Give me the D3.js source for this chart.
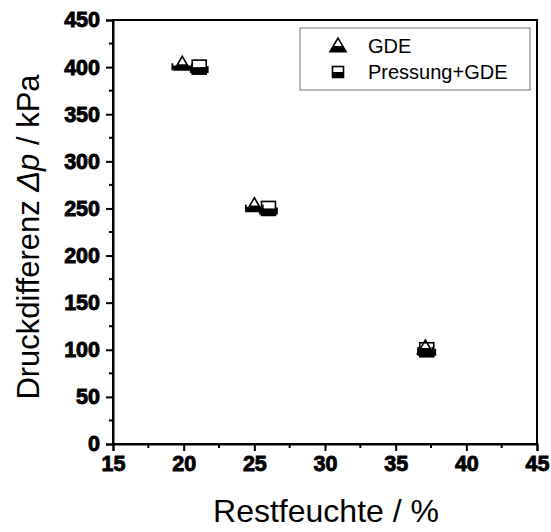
<!DOCTYPE html>
<html>
<head>
<meta charset="utf-8">
<script src="https://cdn.jsdelivr.net/npm/d3@7/dist/d3.min.js"></script>
<style>
  html, body { margin: 0; padding: 0; background: #fff; }
  svg { display: block; font-family: "Liberation Sans", Arial, sans-serif; }
</style>
</head>
<body>
<svg id="chart" width="551" height="532"></svg>
<script>
// Residual moisture (%) vs. pressure difference (kPa)
const gdeX   = [19.9, 25.0, 37.1];
const gdeY   = [403, 253, 102];
const gdeErr = [0.7, 0.6, 0.5];

const presX   = [21.1, 26.0, 37.2];
const presY   = [400, 250, 100];
const presErr = [0.6, 0.6, 0.6];

const xTicks = [15, 20, 25, 30, 35, 40, 45];
const yTicks = [0, 50, 100, 150, 200, 250, 300, 350, 400, 450];

const seriesNames = ["GDE", "Pressung+GDE"];

const svg = d3.select("#chart");
const m = { left: 113, right: 14, top: 20, bottom: 88 };
const W = 551, H = 532;
const x = d3.scaleLinear().domain([15, 45]).range([m.left, W - m.right]);
const y = d3.scaleLinear().domain([0, 450]).range([H - m.bottom, m.top]);

// frame
svg.append("rect")
  .attr("x", x(15)).attr("y", y(450))
  .attr("width", x(45) - x(15)).attr("height", y(0) - y(450))
  .attr("fill", "none").attr("stroke", "#000").attr("stroke-width", 2);

// minor ticks
const xMinor = d3.range(17.5, 45, 5);
const yMinor = d3.range(25, 450, 50);

const xAxis = d3.axisBottom(x).tickValues(xTicks).tickSize(7).tickPadding(5).tickFormat(d3.format("d"));
const yAxis = d3.axisLeft(y).tickValues(yTicks).tickSize(7).tickPadding(6).tickFormat(d3.format("d"));

const gx = svg.append("g").attr("transform", `translate(0,${y(0)})`).call(xAxis);
const gy = svg.append("g").attr("transform", `translate(${x(15)},0)`).call(yAxis);
[gx, gy].forEach(g => {
  g.attr("font-family", "'Liberation Sans', Arial, sans-serif")
   .attr("font-size", 21.5);
  g.select(".domain").attr("stroke", "#000").attr("stroke-width", 2);
  g.selectAll(".tick line").attr("stroke", "#000").attr("stroke-width", 2);
  g.selectAll(".tick text")
    .attr("fill", "#000")
    .style("font-weight", "700")
    .attr("stroke", "#000")
    .attr("stroke-width", 0.9)
    .attr("paint-order", "stroke");
});

svg.append("g").selectAll("line").data(xMinor).join("line")
  .attr("x1", d => x(d)).attr("x2", d => x(d))
  .attr("y1", y(0)).attr("y2", y(0) + 4)
  .attr("stroke", "#000").attr("stroke-width", 2);
svg.append("g").selectAll("line").data(yMinor).join("line")
  .attr("y1", d => y(d)).attr("y2", d => y(d))
  .attr("x1", x(15)).attr("x2", x(15) - 4)
  .attr("stroke", "#000").attr("stroke-width", 2);

// axis titles
svg.append("text")
  .attr("x", 326).attr("y", 522)
  .attr("text-anchor", "middle")
  .style("font-size", "32px")
  .text("Restfeuchte / %");

const yt = svg.append("text")
  .attr("transform", `translate(39,237) rotate(-90)`)
  .attr("text-anchor", "middle")
  .style("font-size", "31px");
yt.append("tspan").text("Druckdifferenz ");
yt.append("tspan").style("font-style", "italic").text("Δp");
yt.append("tspan").text(" / kPa");

// half-filled marker shapes
const tri = 8;   // triangle half-width
const sq = 7;    // square half-size

function drawTriangle(g, cx, cy, s) {
  const h = s * 1.7;
  const top = cy - h * 0.58, bot = cy + h * 0.42;
  const mid = cy;
  const wAt = yy => s * (yy - top) / (bot - top);
  g.append("path")
    .attr("d", `M${cx - wAt(mid)},${mid} L${cx + wAt(mid)},${mid} L${cx + s},${bot} L${cx - s},${bot} Z`)
    .attr("fill", "#000");
  g.append("path")
    .attr("d", `M${cx},${top} L${cx + s},${bot} L${cx - s},${bot} Z`)
    .attr("fill", "none").attr("stroke", "#000").attr("stroke-width", 1.6)
    .attr("stroke-linejoin", "miter");
}

function drawSquare(g, cx, cy, s) {
  g.append("rect")
    .attr("x", cx - s).attr("y", cy).attr("width", 2 * s).attr("height", s)
    .attr("fill", "#000");
  g.append("rect")
    .attr("x", cx - s).attr("y", cy - s).attr("width", 2 * s).attr("height", 2 * s)
    .attr("fill", "none").attr("stroke", "#000").attr("stroke-width", 1.6);
}

function errorBar(g, cx, cy, e) {
  const x0 = x(cx - e), x1 = x(cx + e), yy = y(cy);
  g.append("line").attr("x1", x0).attr("x2", x1).attr("y1", yy + 3).attr("y2", yy + 3)
    .attr("stroke", "#000").attr("stroke-width", 3.5);
  [x0, x1].forEach(xx => g.append("line")
    .attr("x1", xx).attr("x2", xx).attr("y1", yy - 1).attr("y2", yy + 6)
    .attr("stroke", "#000").attr("stroke-width", 1.8));
}

const marks = svg.append("g");
presX.forEach((v, i) => errorBar(marks, v, presY[i], presErr[i]));
gdeX.forEach((v, i) => errorBar(marks, v, gdeY[i], gdeErr[i]));
presX.forEach((v, i) => drawSquare(marks, x(v), y(presY[i]), sq));
gdeX.forEach((v, i) => drawTriangle(marks, x(v), y(gdeY[i]), tri));

// legend
const lg = svg.append("g");
lg.append("rect")
  .attr("x", 300).attr("y", 28).attr("width", 230).attr("height", 62)
  .attr("fill", "#fff").attr("stroke", "#888").attr("stroke-width", 1.2);
drawTriangle(lg, 338, 46, 8);
drawSquare(lg, 338, 72, 5.5);
lg.append("text").attr("x", 368).attr("y", 53).style("font-size", "20px").text(seriesNames[0]);
lg.append("text").attr("x", 368).attr("y", 79).style("font-size", "20px").text(seriesNames[1]);
</script>
</body>
</html>
